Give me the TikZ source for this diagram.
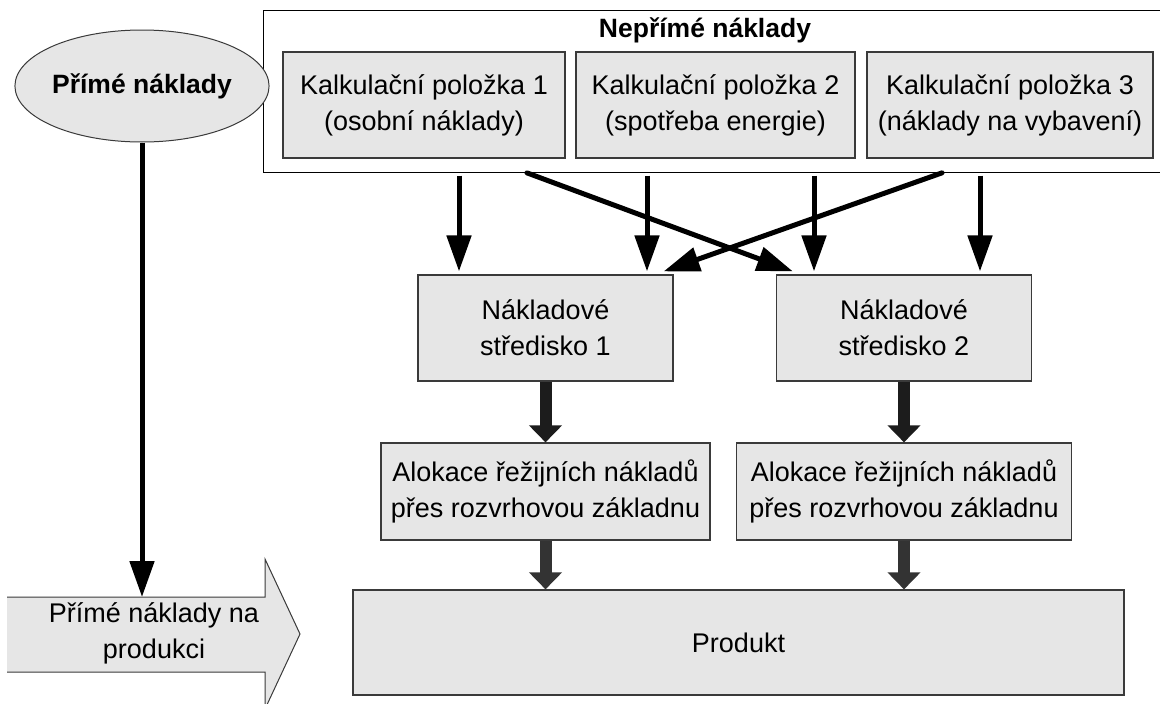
\documentclass[tikz,border=0pt]{standalone}
\usepackage{fontspec}
\setmainfont{Liberation Sans}
\usetikzlibrary{arrows.meta,positioning,shapes.geometric}

\definecolor{boxgray}{HTML}{E6E6E6}
\definecolor{edgegray}{HTML}{3A3A3A}
\definecolor{flowdark}{HTML}{1C1C1C}
\definecolor{flowgray}{HTML}{333333}

\tikzset{
  txt/.style={font=\fontsize{27}{36}\selectfont, align=center},
  boldtxt/.style={font=\fontsize{26.5}{36}\selectfont\bfseries, align=center},
  costbox/.style={txt, draw=edgegray, fill=boxgray, line width=1.2pt, inner sep=0pt},
  thinflow/.style={line width=5pt, -{Triangle[length=36pt,width=24pt]}},
  thickflow/.style={line width=12pt, draw=flowdark, -{Triangle[length=17pt,width=32pt]}},
}

\begin{document}
\begin{tikzpicture}[x=1pt,y=-1pt]
  \useasboundingbox (0,0) rectangle (1160,704);

  % indirect costs
  \node[draw, line width=1pt, minimum width=900pt, minimum height=162pt] (indirect) at (713,91) {};
  \node[boldtxt] (indtitle) at (705,30) {Nepřímé náklady};
  \node[costbox, minimum width=282pt, minimum height=106pt] (item1) at (424,105)
    {Kalkulační položka 1\\(osobní náklady)};
  \node[costbox, minimum width=279pt, minimum height=106pt] (item2) at (715.5,105)
    {Kalkulační položka 2\\(spotřeba energie)};
  \node[costbox, minimum width=286pt, minimum height=106pt] (item3) at (1010,105)
    {Kalkulační položka 3\\(náklady na vybavení)};

  % direct costs
  \node[ellipse, draw=edgegray, fill=boxgray, line width=1pt, boldtxt,
        minimum width=232pt, minimum height=112pt, inner sep=0pt] (direct) at (142,86) {Přímé náklady};

  % cost centres and allocation
  \node[costbox, minimum width=255pt, minimum height=106pt] (cc1) at (545.5,328) {Nákladové\\středisko 1};
  \node[costbox, minimum width=255pt, minimum height=106pt] (cc2) at (904,328) {Nákladové\\středisko 2};
  \node[costbox, minimum width=329pt, minimum height=97pt] (alloc1) at (545.5,491.5)
    {Alokace řežijních nákladů\\přes rozvrhovou základnu};
  \node[costbox, minimum width=335pt, minimum height=97pt] (alloc2) at (904,491.5)
    {Alokace řežijních nákladů\\přes rozvrhovou základnu};
  \node[costbox, minimum width=771pt, minimum height=105pt] (product) at (738.5,642.5) {Produkt};

  % block arrow for direct product costs
  \fill[boxgray] (7,597) -- (265,597) -- (265,559) -- (300,634) -- (265,709) -- (265,672) -- (7,672) -- cycle;
  \draw[edgegray, line width=1pt] (7,597) -- (265,597) -- (265,559) -- (300,634) -- (265,709) -- (265,672) -- (7,672);
  \node[txt] (directprod) at (154,633) {Přímé náklady na\\produkci};
  \coordinate (bodytop) at (142,597);

  % flows
  \draw[thinflow] (direct) -- (bodytop);
  \foreach \x/\target in {459/cc1, 647/cc1, 814/cc2, 980/cc2}
    \draw[thinflow, shorten <=3pt, shorten >=3pt] (indirect.south -| \x,0) -- (\target.north -| \x,0);
  \draw[thinflow, line cap=round, shorten <=1pt] (indirect.south -| 526,0) -- ([xshift=17pt,yshift=3pt]cc2.north west);
  \draw[thinflow, line cap=round, shorten <=1pt] (indirect.south -| 943,0) -- ([xshift=-10pt,yshift=3pt]cc1.north east);
  \draw[thickflow] (cc1) -- (alloc1);
  \draw[thickflow] (cc2) -- (alloc2);
  \draw[thickflow, draw=flowgray] (alloc1) -- (alloc1 |- product.north);
  \draw[thickflow, draw=flowgray] (alloc2) -- (alloc2 |- product.north);
\end{tikzpicture}
\end{document}
